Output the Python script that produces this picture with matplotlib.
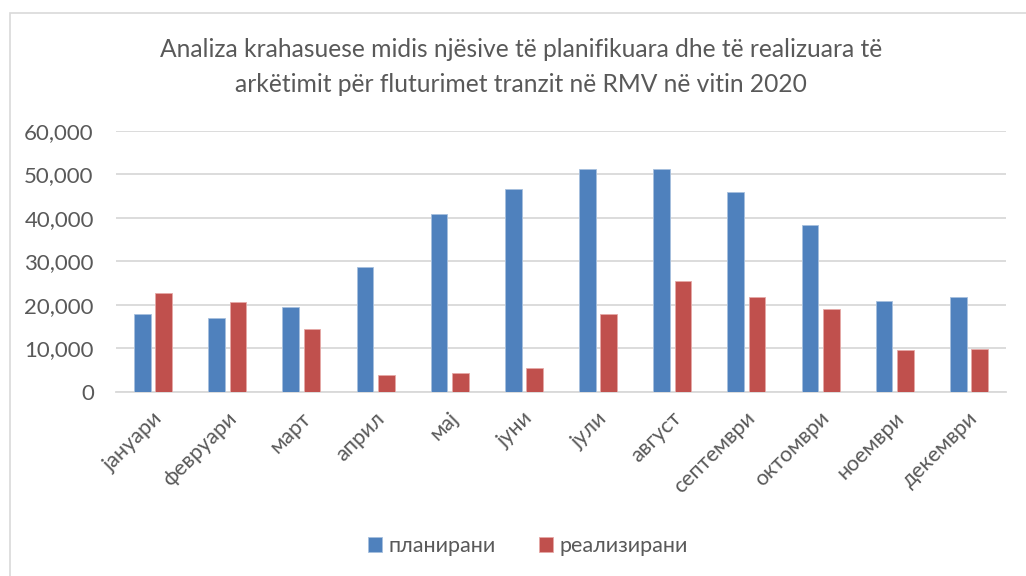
import matplotlib.pyplot as plt
from matplotlib.ticker import FuncFormatter, MultipleLocator
from matplotlib.patches import Rectangle
from matplotlib.transforms import ScaledTranslation
import numpy as np

plt.rcParams['font.family'] = ['Lato', 'Open Sans', 'DejaVu Sans']

months = ['јануари', 'февруари', 'март', 'април', 'мај', 'јуни',
          'јули', 'август', 'септември', 'октомври', 'ноември', 'декември']
planned = [17950, 16900, 19500, 28770, 40900, 46580,
           51190, 51260, 45960, 38430, 20870, 21790]
realized = [22650, 20580, 14430, 3770, 4230, 5380,
            17810, 25410, 21860, 19030, 9670, 9900]

title = ('Analiza krahasuese midis njësive të planifikuara dhe të realizuara të\n'
         'arkëtimit për fluturimet tranzit në RMV në vitin 2020')

fig = plt.figure(figsize=(10.26, 5.76), dpi=100)
ax = fig.add_axes([116 / 1026, 1 - 391.7 / 576, 890 / 1026, 260.7 / 576])

x = np.arange(len(months))
w = 0.225
ax.bar(x - 0.143, planned, w, color='#4F81BD', edgecolor='#A7C0DE', linewidth=0.6,
       label='планирани', zorder=3)
ax.bar(x + 0.143, realized, w, color='#C0504D', edgecolor='#E6A9A7', linewidth=0.6,
       label='реализирани', zorder=3)

ax.set_xlim(-0.5, len(months) - 0.5)
ax.set_ylim(0, 60000)
ax.yaxis.set_major_locator(MultipleLocator(10000))
ax.yaxis.set_major_formatter(FuncFormatter(lambda v, p: f'{int(v):,}'))
ax.grid(axis='y', color='#D9D9D9', linewidth=1.3, zorder=0)
for s in ['top', 'right', 'left']:
    ax.spines[s].set_visible(False)
ax.spines['bottom'].set_color('#D9D9D9')
ax.spines['bottom'].set_linewidth(1.3)
ax.tick_params(axis='both', length=0, colors='#595959')
ax.tick_params(axis='y', pad=16, labelsize=16)
ax.tick_params(axis='x', pad=17)
ax.set_xticks(x)
ax.set_xticklabels(months, rotation=45, ha='right', va='center',
                   rotation_mode='anchor', fontsize=15.5)
shift = ScaledTranslation(6 / 100, 0, fig.dpi_scale_trans)
for lbl in ax.get_xticklabels():
    lbl.set_transform(lbl.get_transform() + shift)

fig.text(0.508, 0.884, title, ha='center', va='center', fontsize=17.7, color='#595959',
         linespacing=1.6)

leg = fig.legend(loc='center', bbox_to_anchor=(528 / 1026, 1 - 546 / 576), ncol=2,
                 frameon=False, fontsize=15.5, handlelength=0.65, handleheight=0.65,
                 handletextpad=0.3, columnspacing=2.0)
for t in leg.get_texts():
    t.set_color('#595959')

fig.patches.append(Rectangle((10 / 1026, -0.1), 1.2, 1 - 13 / 576 + 0.1,
                             transform=fig.transFigure, fill=False,
                             edgecolor='#D9D9D9', linewidth=1.2))

fig.savefig('out.png', dpi=100)
